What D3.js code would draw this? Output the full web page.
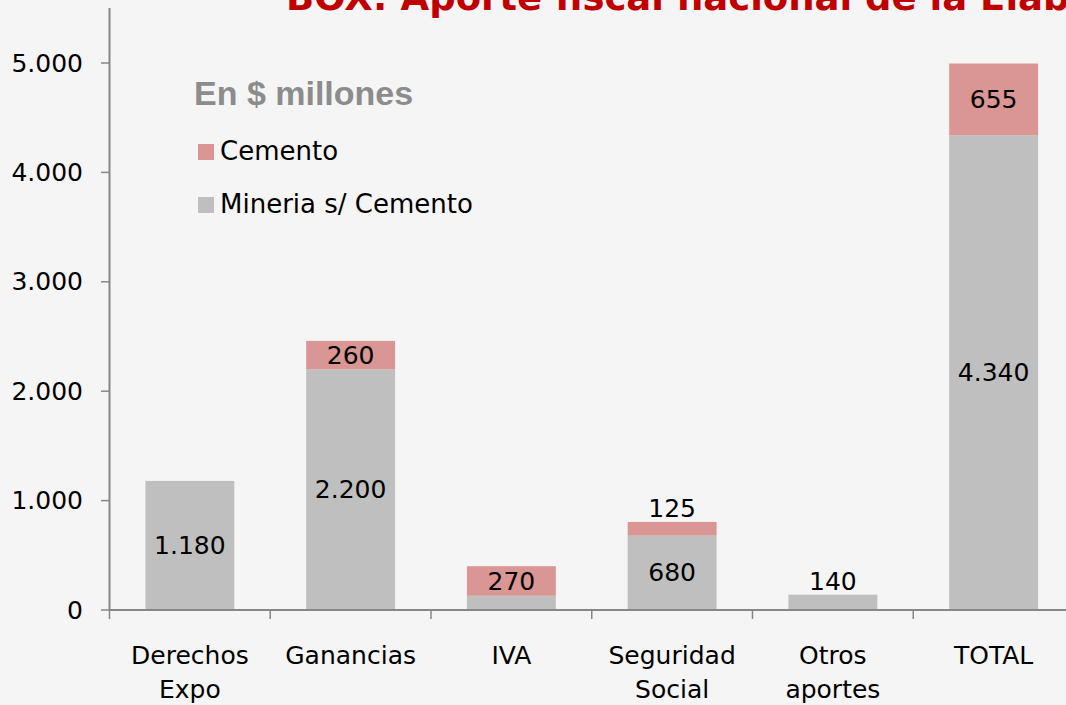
<!DOCTYPE html>
<html>
<head>
<meta charset="utf-8">
<script src="https://cdn.jsdelivr.net/npm/d3@7"></script>
<style>
  html, body { margin: 0; padding: 0; background: #f5f5f5; overflow: hidden; }
  svg { display: block; }
</style>
</head>
<body>
<svg id="chart" width="1066" height="705"></svg>
<script>
// ---- data ----
const categories = [["Derechos", "Expo"], ["Ganancias"], ["IVA"], ["Seguridad", "Social"], ["Otros", "aportes"], ["TOTAL"]];
const mineria = [1180, 2200, 130, 680, 140, 4340];
const cemento = [0, 260, 270, 125, 0, 655];
const seriesNames = ["Cemento", "Mineria s/ Cemento"];
const yTicks = [0, 1000, 2000, 3000, 4000, 5000];
const hiddenLabels = [["IVA", "mineria"]];
const titleText = "BOX: Aporte fiscal nacional de la Elaboración de cemento";
const unitText = "En $ millones";

// ---- setup ----
const W = 1066, H = 705;
const svg = d3.select("#chart");
const FONT = "DejaVu Sans, Verdana, sans-serif";
const FS = 25;
const colors = { mineria: "#bfbfbf", cemento: "#d99694" };
const axisColor = "#878787";
const loc = d3.formatLocale({ decimal: ",", thousands: ".", grouping: [3], currency: ["$", ""] });
const fmt = loc.format(",d");

const catKeys = categories.map(c => c.join(" "));
const x = d3.scaleBand().domain(catKeys).range([109.5, 1074]).paddingInner(0.447).paddingOuter(0.2235);
const y = d3.scaleLinear().domain([0, 5000]).range([610, 63]);

const rows = catKeys.map((k, i) => ({ key: k, mineria: mineria[i], cemento: cemento[i] }));
const stack = d3.stack().keys(["mineria", "cemento"]);
const stacked = stack(rows);

// bars
const g = svg.append("g");
stacked.forEach(layer => {
  g.selectAll(null).data(layer).enter().append("rect")
    .attr("x", d => x(d.data.key))
    .attr("width", x.bandwidth())
    .attr("y", d => y(d[1]))
    .attr("height", d => Math.max(0, y(d[0]) - y(d[1])))
    .attr("fill", colors[layer.key]);
});

// data labels
stacked.forEach(layer => {
  layer.forEach(d => {
    const v = d[1] - d[0];
    if (v <= 0) return;
    if (hiddenLabels.some(h => h[0] === d.data.key && h[1] === layer.key)) return;
    const h = y(d[0]) - y(d[1]);
    const cx = x(d.data.key) + x.bandwidth() / 2;
    let ty, base;
    if (h < 22) { ty = y(d[1]) - 5; base = "auto"; }
    else { ty = (y(d[0]) + y(d[1])) / 2; base = "central"; }
    g.append("text")
      .attr("x", cx).attr("y", ty)
      .attr("text-anchor", "middle")
      .attr("dominant-baseline", base)
      .attr("font-family", FONT).attr("font-size", FS)
      .attr("fill", "#000")
      .text(fmt(v));
  });
});

// y axis
const yAxis = svg.append("g");
yAxis.append("line").attr("x1", 109.5).attr("x2", 109.5).attr("y1", 8).attr("y2", 610)
  .attr("stroke", axisColor).attr("stroke-width", 2);
yTicks.forEach(t => {
  yAxis.append("line").attr("x1", 101).attr("x2", 109.5).attr("y1", y(t)).attr("y2", y(t))
    .attr("stroke", axisColor).attr("stroke-width", 1.5);
  yAxis.append("text").attr("x", 83).attr("y", y(t))
    .attr("text-anchor", "end").attr("dominant-baseline", "central")
    .attr("font-family", FONT).attr("font-size", FS).attr("fill", "#000")
    .text(fmt(t));
});

// x axis
const xAxis = svg.append("g");
xAxis.append("line").attr("x1", 108.5).attr("x2", W).attr("y1", 610).attr("y2", 610)
  .attr("stroke", axisColor).attr("stroke-width", 2);
const step = x.step();
catKeys.forEach((k, i) => {
  const left = 109.5 + i * step;
  xAxis.append("line").attr("x1", left).attr("x2", left).attr("y1", 610).attr("y2", 619)
    .attr("stroke", axisColor).attr("stroke-width", 1.5);
  const cx = x(k) + x.bandwidth() / 2;
  const t = xAxis.append("text").attr("text-anchor", "middle")
    .attr("font-family", FONT).attr("font-size", FS).attr("fill", "#000");
  categories[i].forEach((line, j) => {
    t.append("tspan").attr("x", cx).attr("y", 664 + j * 34).text(line);
  });
});

// title (clipped at top edge, as in the reference)
svg.append("text").attr("x", 286).attr("y", 10)
  .attr("font-family", FONT).attr("font-weight", "bold").attr("font-size", 37)
  .attr("fill", "#c00000").text(titleText);

// unit note
svg.append("text").attr("x", 194).attr("y", 105)
  .attr("font-family", "Liberation Sans, Arial, sans-serif").attr("font-weight", "bold")
  .attr("font-size", 34).attr("fill", "#8c8c8c").text(unitText);

// legend
const legendKeys = ["cemento", "mineria"];
legendKeys.forEach((k, i) => {
  const ly = 144 + i * 53;
  svg.append("rect").attr("x", 198).attr("y", ly).attr("width", 16).attr("height", 16)
    .attr("fill", colors[k]);
  svg.append("text").attr("x", 220).attr("y", ly + 16)
    .attr("font-family", FONT).attr("font-size", 26).attr("fill", "#000")
    .text(seriesNames[i]);
});
</script>
</body>
</html>
